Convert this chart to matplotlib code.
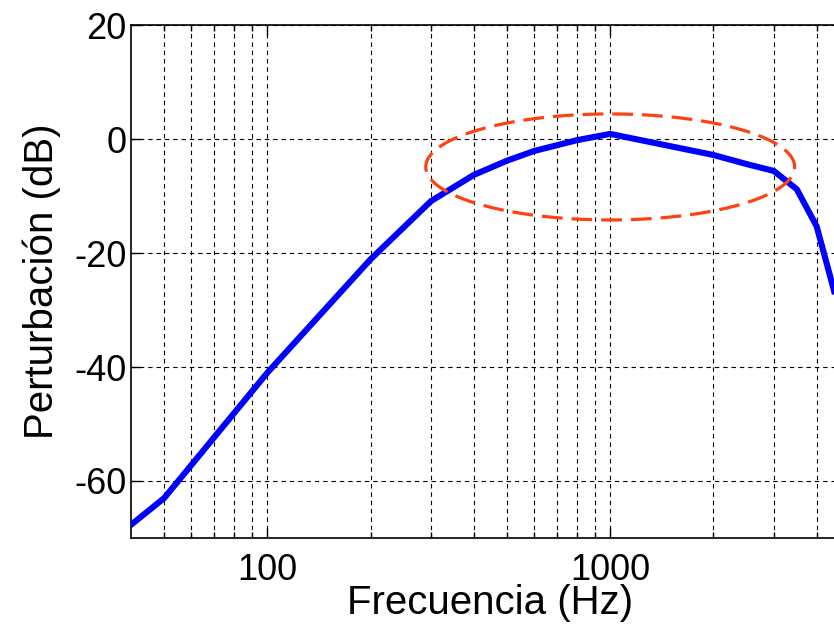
import numpy as np
import matplotlib
matplotlib.use("Agg")
import matplotlib.pyplot as plt
from matplotlib.ticker import FixedLocator, NullFormatter

plt.rcParams['font.family'] = ['Liberation Sans', 'DejaVu Sans']
plt.rcParams['axes.unicode_minus'] = False

# datos
frecuencia = [40, 50, 100, 200, 300, 400, 500, 600, 800, 1000,
              2000, 2500, 3000, 3500, 4000, 4500]
perturbacion = [-67.7, -63.0, -41.0, -21.1, -10.9, -6.3, -3.8, -2.1, -0.2, 0.9,
                -2.8, -4.4, -5.6, -8.8, -15.3, -26.7]

# elipse que marca la zona plana
elipse_centro_hz = 1000
elipse_centro_db = -4.9
elipse_semi_dec = 0.538
elipse_semi_db = 9.3

fig = plt.figure(figsize=(8.34, 6.29), dpi=100)
ax = fig.add_axes([0.157, 0.1447, 0.862, 0.8155])

ax.plot(frecuencia, perturbacion, color='#0000ff', lw=4.4, solid_joinstyle='miter', zorder=3)

t = np.linspace(0, 2 * np.pi, 400)
ex = elipse_centro_hz * 10 ** (elipse_semi_dec * np.cos(t))
ey = elipse_centro_db + elipse_semi_db * np.sin(t)
ax.plot(ex, ey, color='#ff4010', lw=2.3, dashes=(6.5, 2.8), zorder=4)

ax.set_xscale('log')
ax.set_xlim(40, 5000)
ax.set_ylim(-70, 20)
ax.xaxis.set_major_locator(FixedLocator([100, 1000]))
ax.xaxis.set_major_formatter(plt.FuncFormatter(lambda v, p: '%d' % v))
menores = [50, 60, 70, 80, 90, 200, 300, 400, 500, 600, 700, 800, 900, 2000, 3000, 4000]
ax.xaxis.set_minor_locator(FixedLocator(menores))
ax.xaxis.set_minor_formatter(NullFormatter())
ax.set_yticks([-60, -40, -20, 0, 20])

ax.grid(True, which='both', color='black', lw=0.8, linestyle=(0, (4, 3.5)))
ax.tick_params(which='both', direction='in', labelsize=26, top=True, right=True)
ax.tick_params(which='major', length=7, width=1)
ax.tick_params(which='minor', length=4, width=1)
ax.tick_params(axis='x', which='major', pad=11)
ax.tick_params(axis='y', which='major', pad=3)
for s in ax.spines.values():
    s.set_linewidth(1.2)

ax.set_xlabel('Frecuencia (Hz)', fontsize=29, labelpad=-3)
ax.set_ylabel('Perturbación (dB)', fontsize=29, labelpad=10)

fig.savefig('out.png', dpi=100)
